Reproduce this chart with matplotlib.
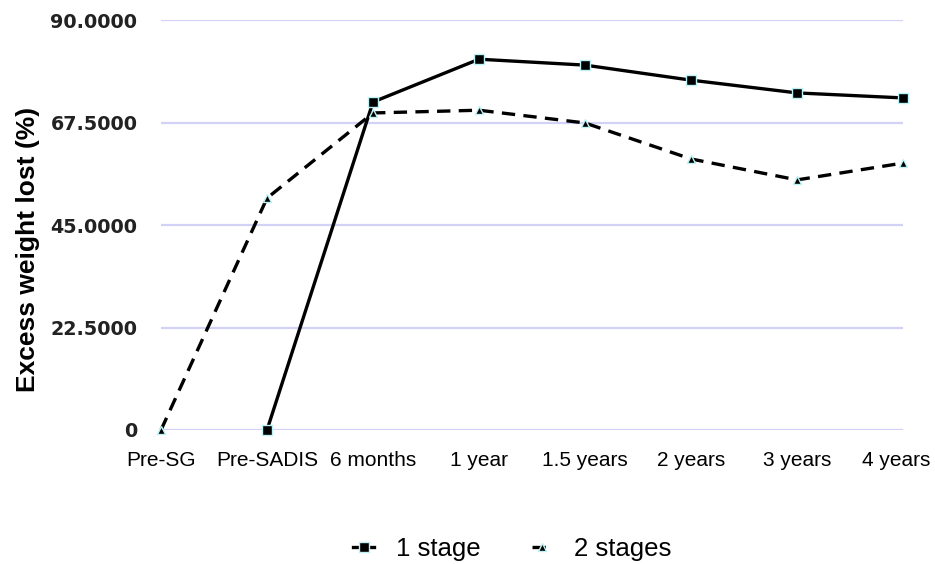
import matplotlib.pyplot as plt

categories = ['Pre-SG', 'Pre-SADIS', '6 months', '1 year', '1.5 years', '2 years', '3 years', '4 years']
one_stage = [None, 0.0, 72.0, 81.4, 80.1, 76.8, 74.0, 72.9]
two_stages = [0.0, 50.9, 69.6, 70.2, 67.4, 59.5, 54.9, 58.6]
yticks = [0, 22.5, 45, 67.5, 90]
ytick_labels = ['0', '22.5000', '45.0000', '67.5000', '90.0000']

fig = plt.figure(figsize=(9.35, 5.64), dpi=100)
ax = fig.add_axes([0.1722, 0.2376, 0.7936, 0.7269])

x1 = [i for i, v in enumerate(one_stage) if v is not None]
y1 = [v for v in one_stage if v is not None]
x2 = list(range(len(two_stages)))

ax.plot(x1, y1, color='black', lw=2.4, marker='s', ms=6.5,
        mec='#bdf3f6', mew=1.0, mfc='black', clip_on=False, zorder=3, label='1 stage')
ax.plot(x2, two_stages, color='black', lw=2.4, ls=(0, (4, 2.5)), marker='^', ms=6,
        mec='#bdf3f6', mew=1.0, mfc='black', clip_on=False, zorder=3, label='2 stages')

ax.set_xlim(0, len(categories) - 1)
ax.set_ylim(0, 90)
ax.set_xticks(range(len(categories)))
# last label would run off the right edge, so it is drawn nudged left
ax.set_xticklabels(categories[:-1] + [''], fontsize=15, family='Liberation Sans')
ax.annotate(categories[-1], xy=(len(categories) - 1, 0), xycoords=ax.get_xaxis_transform(),
            xytext=(-5, -15), textcoords='offset points', ha='center', va='top',
            fontsize=15, family='Liberation Sans', annotation_clip=False)
ax.set_yticks(yticks)
ax.set_yticklabels(ytick_labels, fontsize=13.8, family='DejaVu Sans', fontweight='bold', color='#222222')
ax.tick_params(length=0)
ax.tick_params(axis='x', pad=15)
ax.tick_params(axis='y', pad=17)
ax.yaxis.grid(True, color='#d2d2f7', lw=1.6)
for s in ax.spines.values():
    s.set_visible(False)

ax.set_ylabel('Excess weight lost (%)', fontsize=19, fontweight='bold', family='Liberation Sans')
ax.yaxis.set_label_coords(-0.163, 0.44)

leg = fig.legend(loc='center', bbox_to_anchor=(0.548, 0.027), ncol=2, frameon=False,
                 prop={'family': 'Liberation Sans', 'size': 18.5}, handlelength=0.8,
                 columnspacing=2.0, handletextpad=0.85)

fig.savefig('out.png', dpi=100)
